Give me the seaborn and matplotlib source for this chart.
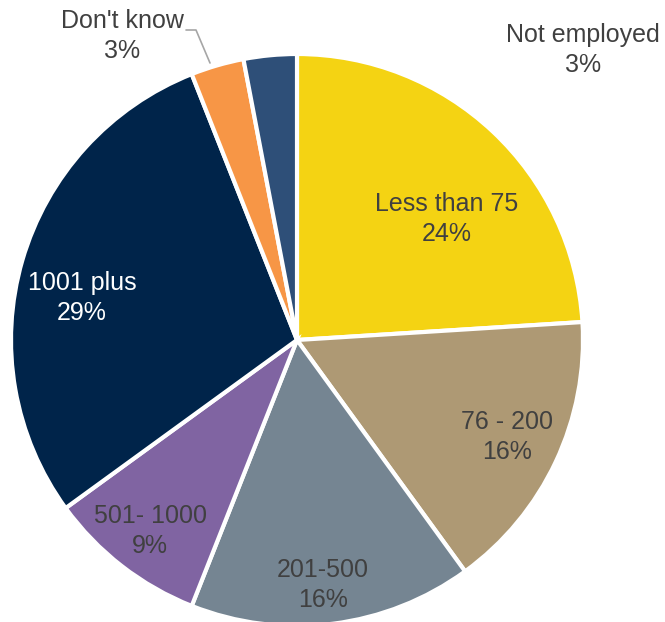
import matplotlib
matplotlib.use("Agg")
import matplotlib.pyplot as plt
import seaborn as sns

categories = ["Less than 75", "76 - 200", "201-500", "501- 1000", "1001 plus", "Don't know", "Not employed"]
values = [24, 16, 16, 9, 29, 3, 3]
label_text = ["Less than 75\n24%", "76 - 200\n16%", "201-500\n16%", "501- 1000\n9%",
              "1001 plus\n29%", "Don't know\n3%", "Not employed\n3%"]
colors_hex = ["#F4D313", "#AE9974", "#758592", "#8064A2", "#00244A", "#F79646", "#2E4F78"]

sns.set_theme(style="white")
plt.rcParams['font.family'] = ['Liberation Sans', 'DejaVu Sans']
palette = sns.color_palette(colors_hex)

fig = plt.figure(figsize=(6.65, 6.22), dpi=100)
ax = fig.add_axes([0, 0, 1, 1])

cx, cy, r = 297, 622 - 340, 286
ax.pie(values, colors=palette, startangle=90, counterclock=False,
       center=(cx, cy), radius=r, frame=True,
       wedgeprops=dict(edgecolor='white', linewidth=3))
ax.set_xlim(0, 665)
ax.set_ylim(0, 622)
ax.set_aspect('equal')
ax.axis('off')

label_pos = [(447, 219), (507, 437), (323, 585), (150, 531), (82, 298), (122, 36), (583, 50)]
label_col = ["#404040", "#404040", "#404040", "#404040", "white", "#404040", "#404040"]
for txt, (x, y), c in zip(label_text, label_pos, label_col):
    ax.text(x, 622 - y, txt, ha='center', va='center', fontsize=18, color=c, linespacing=1.35)

ax.plot([186, 196, 210], [622 - 30, 622 - 30, 622 - 63], color='#A6A6A6', lw=1.2)

fig.savefig("out.png", dpi=100)
